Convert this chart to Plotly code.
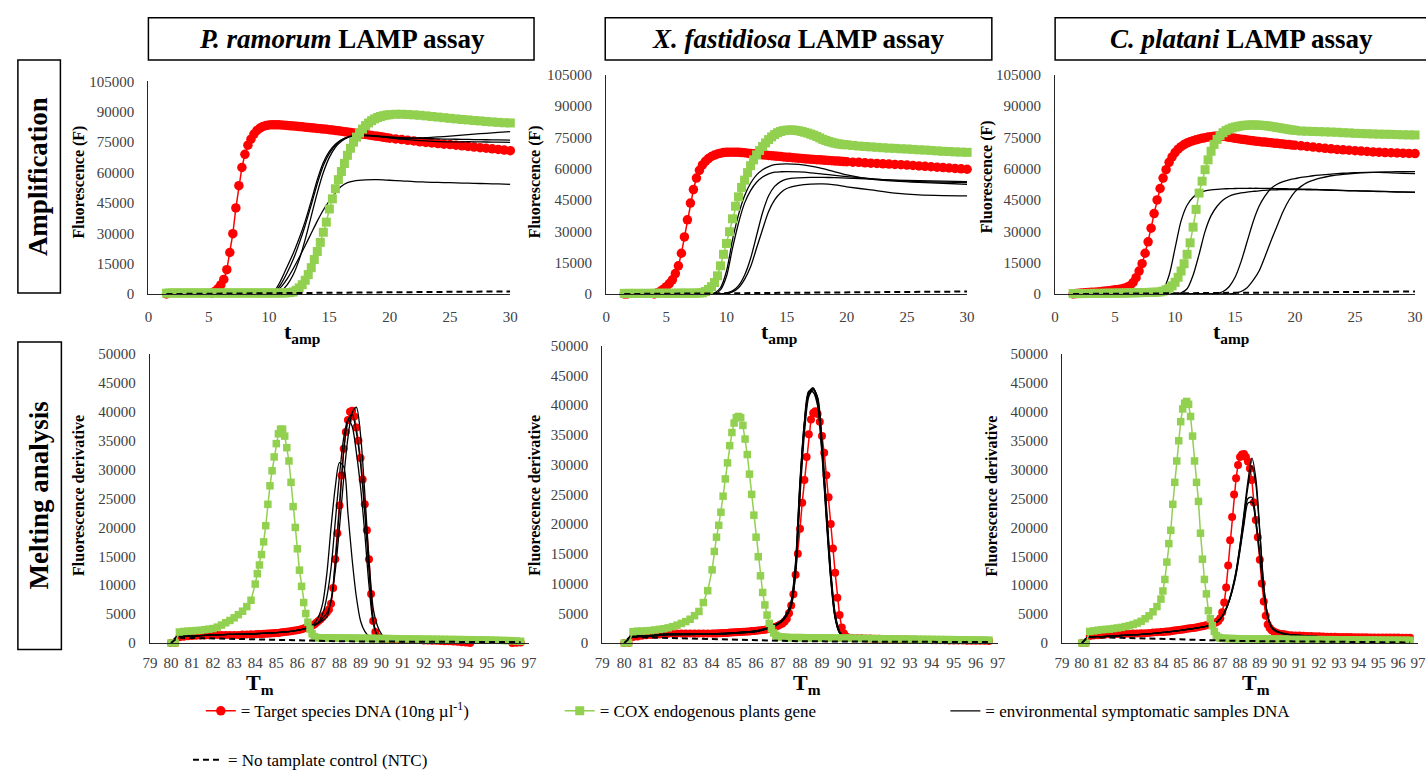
import plotly.graph_objects as go

OX, OY = 0, 0
W, H = 1426, 780
FONT = "Liberation Serif"
RED = "#FF0000"
GREEN = "#92D050"
BLACK = "#000000"
AXIS = "#262626"
TICK = "#404040"

# ======================= AMPLIFICATION (values in thousands of F) =======================
# sampling grid: every 0.25 min up to 20 min, then every 0.5 min
t_amp = [round(1.5 + 0.25 * i, 2) for i in range(75)] + [round(20.5 + 0.5 * i, 1) for i in range(20)]

# ---- P. ramorum ----
amp_red_pr = [0.0, -0.2,
              -0.4, -0.6, -0.8, -0.9, -1.0, -1.0, -1.0, -1.0, -0.9, -0.8, -0.7, -0.5,
              -0.2, 0.4, 1.3, 2.6, 4.5, 7.2, 12.0, 20.5, 29.8, 42.5, 53.5, 62.5,
              69.0, 73.5, 76.5, 79.0, 80.8, 82.0, 82.8, 83.2, 83.5, 83.6, 83.6, 83.6,
              83.5, 83.4, 83.3, 83.1, 83.0, 82.9, 82.7, 82.6, 82.4, 82.3, 82.1, 82.0,
              81.8, 81.7, 81.5, 81.4, 81.2, 81.0, 80.8, 80.6, 80.4, 80.2, 80.0, 79.8,
              79.6, 79.4, 79.2, 79.0, 78.8, 78.6, 78.3, 78.1, 77.9, 77.7, 77.4, 77.2,
              77.0,
              76.6, 76.3, 75.9, 75.6, 75.2, 74.9, 74.6, 74.3, 74.0, 73.8,
              73.5, 73.2, 72.9, 72.6, 72.3, 72.0, 71.7, 71.4, 71.1, 70.8]
amp_grn_pr = [0.4, 0.5,
              0.5, 0.5, 0.5, 0.5, 0.5, 0.5, 0.5, 0.5, 0.5, 0.5, 0.5, 0.5,
              0.5, 0.5, 0.5, 0.5, 0.5, 0.5, 0.5, 0.5, 0.5, 0.5, 0.5, 0.5,
              0.5, 0.5, 0.5, 0.5, 0.5, 0.5, 0.5, 0.5, 0.5, 0.5, 0.5, 0.5,
              0.5, 0.55, 0.6, 0.75, 1.0, 1.8, 3.0, 4.6, 6.8, 9.6, 13.0, 17.0,
              21.0, 25.5, 30.5, 35.5, 42.0, 47.0, 52.0, 56.5, 60.5, 64.5, 68.5, 72.0,
              75.0, 77.5, 79.5, 81.5, 83.2, 84.5, 85.6, 86.5, 87.2, 87.7, 88.1, 88.4,
              88.6,
              88.8, 88.8, 88.7, 88.5, 88.3, 88.0, 87.7, 87.4, 87.1, 86.8,
              86.5, 86.2, 86.0, 85.7, 85.5, 85.2, 85.0, 84.8, 84.6, 84.5]
t_blk_pr = [1.5, 9.5, 10, 10.5, 11, 11.5, 12, 12.5, 13, 13.5, 14, 14.5, 15, 15.5, 16, 16.5, 17,
            18, 19, 20, 21, 22, 23, 24, 25, 26, 27, 28, 29, 30]
amp_blk_pr = [
    [0, 0, 0, 2, 7, 13.5, 20, 27.5, 36, 46, 56.5, 65, 70.5, 74, 76.2, 77.4, 78,
     78.2, 77.8, 77.3, 77, 77, 77.2, 77.6, 78, 78.5, 79, 79.4, 79.8, 80.2],
    [0, 0, 0, 1.2, 5, 10.5, 17, 25, 34, 44, 54.5, 63.5, 69.5, 73.5, 76, 77.5, 78.2,
     78.5, 78, 77.2, 76.5, 76, 75.6, 75.3, 75.2, 75.2, 75.2, 75.1, 75, 74.9],
    [0, 0, 0, 0.3, 1.5, 4.5, 9.5, 17, 27, 38.5, 50, 60, 67.5, 72.5, 75.5, 77.3, 78,
     78.3, 78, 77.6, 77.2, 77, 76.8, 76.6, 76.5, 76.4, 76.3, 76.2, 76.1, 76],
    [0, 0, 0, 1, 3.5, 7.5, 12.5, 18, 24, 30, 36, 41.5, 46, 50, 53.2, 55, 55.8,
     56.4, 56.5, 56.2, 55.9, 55.5, 55.3, 55.1, 55, 54.8, 54.7, 54.5, 54.4, 54.2],
]

# ---- X. fastidiosa ----
amp_red_xf = [0.0, 0.0,
              -0.3, -0.6, -0.9, -1.1, -1.2, -1.1, -0.8, -0.4, 0.0, 0.6, 1.3, 2.3,
              3.5, 5.0, 6.8, 9.8, 13.5, 19.5, 27.3, 35.5, 43.5, 50.0, 55.5, 59.2,
              61.8, 63.5, 64.8, 65.8, 66.5, 67.0, 67.4, 67.7, 67.8, 67.9, 67.9, 67.9,
              67.8, 67.7, 67.6, 67.4, 67.2, 67.1, 66.9, 66.8, 66.6, 66.5, 66.3, 66.2,
              66.0, 65.9, 65.8, 65.6, 65.5, 65.4, 65.2, 65.1, 65.0, 64.9, 64.7, 64.6,
              64.5, 64.4, 64.3, 64.2, 64.1, 64.0, 63.9, 63.8, 63.7, 63.6, 63.5, 63.4,
              63.3,
              63.1, 63.0, 62.8, 62.6, 62.5, 62.3, 62.2, 62.0, 61.9, 61.7,
              61.5, 61.3, 61.1, 60.9, 60.7, 60.5, 60.3, 60.1, 59.9, 59.7]
amp_grn_xf = [0.3, 0.3,
              0.3, 0.3, 0.3, 0.3, 0.3, 0.3, 0.3, 0.3, 0.35, 0.35, 0.35, 0.35,
              0.35, 0.35, 0.35, 0.35, 0.4, 0.4, 0.4, 0.4, 0.4, 0.4, 0.45, 0.5,
              0.6, 1.2, 2.2, 3.5, 5.5, 8.7, 13.5, 19.0, 24.2, 29.8, 36.0, 42.0,
              46.5, 51.0, 54.5, 58.1, 61.4, 64.2, 66.6, 68.7, 70.6, 72.3, 73.9, 75.2,
              76.3, 77.2, 77.8, 78.2, 78.4, 78.5, 78.5, 78.3, 78.1, 77.8, 77.4, 77.0,
              76.5, 76.0, 75.4, 74.7, 74.0, 73.5, 73.0, 72.6, 72.2, 71.9, 71.7, 71.5,
              71.4,
              71.1, 70.8, 70.6, 70.4, 70.2, 70.0, 69.8, 69.7, 69.5, 69.4,
              69.2, 69.0, 68.9, 68.7, 68.5, 68.3, 68.2, 68.0, 67.9, 67.8]
t_blk_xf = [1.5, 8.5, 9, 9.5, 10, 10.5, 11, 11.5, 12, 12.5, 13, 13.5, 14, 14.5, 15,
            16, 17, 18, 19, 20, 22, 24, 26, 28, 30]
amp_blk_xf = [
    [0, 0, 0.5, 3, 11, 26, 38, 47, 53, 57, 59.5, 61, 61.9, 62.2, 62.3, 62, 61.2, 60, 58.5, 57, 55, 54, 53.4, 53, 52.5],
    [0, 0, 0.3, 2, 8.5, 22, 34, 43.5, 49.5, 53.5, 56, 57.5, 58.3, 58.5, 58.6, 58.4, 58, 57.4, 56.8, 56.2, 55.2, 54.4, 53.8, 53.5, 53.3],
    [0, 0, 0, 0, 0.5, 1.5, 4, 9, 17, 28, 39, 47, 51.5, 53.8, 55, 55.6, 55.8, 55.8, 55.7, 55.5, 55, 54.5, 54.2, 54, 53.8],
    [0, 0, 0, 0, 0.3, 1, 3, 7, 13, 22, 31, 39.5, 45, 48.5, 50.5, 52, 52.6, 52.7, 52.2, 51.3, 49.8, 48.3, 47.4, 47.1, 47],
]

# ---- C. platani ----
amp_red_cp = [0.0, 0.2,
              0.4, 0.5, 0.6, 0.7, 0.8, 0.9, 1.0, 1.1, 1.3, 1.4, 1.6, 1.8,
              2.0, 2.2, 2.4, 2.7, 3.2, 4.0, 5.5, 7.8, 11.0, 14.5, 19.5, 25.0,
              31.5, 38.5, 45.0, 50.5, 55.5, 59.5, 63.0, 65.6, 67.7, 69.3, 70.5, 71.5,
              72.3, 72.9, 73.4, 73.8, 74.2, 74.5, 74.8, 75.1, 75.3, 75.5, 75.6, 75.6,
              75.5, 75.3, 75.0, 74.8, 74.5, 74.3, 74.1, 73.9, 73.7, 73.5, 73.3, 73.1,
              73.0, 72.8, 72.7, 72.5, 72.4, 72.2, 72.1, 71.9, 71.8, 71.6, 71.5, 71.3,
              71.2,
              70.9, 70.6, 70.3, 70.0, 69.7, 69.5, 69.2, 69.0, 68.8, 68.6,
              68.4, 68.2, 68.0, 67.9, 67.7, 67.6, 67.5, 67.4, 67.3, 67.2]
amp_grn_cp = [0.2, 0.2,
              0.2, 0.2, 0.25, 0.25, 0.3, 0.3, 0.3, 0.3, 0.35, 0.35, 0.4, 0.4,
              0.4, 0.45, 0.45, 0.5, 0.5, 0.55, 0.6, 0.6, 0.65, 0.7, 0.7, 0.75,
              0.8, 0.85, 0.9, 1.0, 1.4, 2.0, 2.8, 3.9, 5.6, 8.0, 11.0, 14.5,
              19.0, 24.5, 32.0, 40.5, 48.3, 54.0, 59.5, 64.2, 68.3, 71.6, 74.0, 75.8,
              77.2, 78.2, 78.9, 79.5, 79.9, 80.2, 80.5, 80.7, 80.8, 80.9, 80.9, 80.9,
              80.8, 80.7, 80.6, 80.4, 80.2, 80.0, 79.7, 79.5, 79.2, 79.0, 78.7, 78.5,
              78.3,
              78.0, 77.9, 77.8, 77.7, 77.6, 77.5, 77.4, 77.2, 77.1, 76.9,
              76.8, 76.7, 76.6, 76.5, 76.45, 76.4, 76.3, 76.2, 76.15, 76.1]
t_blk_cp = [1.5, 8.5, 9, 9.5, 10, 10.5, 11, 11.5, 12, 12.5, 13, 13.5, 14, 14.5, 15, 15.5, 16,
            16.5, 17, 17.5, 18, 18.5, 19, 19.5, 20, 20.5, 21, 21.5, 22, 23, 24, 25, 26, 27, 28, 29, 30]
amp_blk_cp = [
    [0, 0, 2, 9, 22, 35, 42.5, 46.3, 48.3, 49.3, 49.8, 50.1, 50.3, 50.4, 50.5, 50.55, 50.6, 50.6, 50.6,
     50.55, 50.5, 50.45, 50.4, 50.35, 50.3, 50.2, 50.15, 50.1, 50.0, 49.8, 49.6, 49.45, 49.3, 49.15, 49.0, 48.85, 48.7],
    [0, 0, 0, 0, 0, 0.5, 2.5, 9, 19, 30, 37.5, 42, 45, 46.8, 47.8, 48.4, 48.8, 49.1, 49.4,
     49.6, 49.8, 49.9, 50, 50, 50, 50, 49.9, 49.9, 49.8, 49.65, 49.5, 49.35, 49.2, 49.05, 48.9, 48.75, 48.6],
    [0, 0, 0, 0, 0, 0, 0, 0, 0, 0, 0, 0.3, 1.2, 3.5, 8, 15.5, 25, 34.5, 42,
     47, 50.5, 52.5, 53.8, 54.6, 55.2, 55.8, 56.2, 56.6, 56.9, 57.4, 57.8, 58.1, 58.2, 58.2, 58.0, 57.8, 57.6],
    [0, 0, 0, 0, 0, 0, 0, 0, 0, 0, 0, 0, 0, 0, 0.4, 1.2, 3, 6.5, 11,
     18, 25.5, 32.5, 39.5, 45, 49, 51.5, 53.3, 54.4, 55.3, 56.6, 57.3, 57.8, 58.1, 58.3, 58.5, 58.6, 58.6],
]

t_ntc_amp = [1.5, 10, 20, 30]
amp_ntc = {"pr": [0, 0.3, 0.8, 1.3], "xf": [0, 0.3, 0.8, 1.2], "cp": [0, 0.3, 0.8, 1.2]}

# ======================= MELTING (values in thousands) =======================
T_melt = ([round(80.0 + 0.2 * i, 1) for i in range(20)] + [round(84.0 + 0.1 * i, 1) for i in range(65)]
          + [round(90.6 + 0.2 * i, 1) for i in range(31)])

melt_red_pr = ([0, 0, 1.0, 1.1, 1.15, 1.2, 1.25, 1.3, 1.3, 1.35, 1.4, 1.4, 1.4, 1.4, 1.4, 1.4, 1.4, 1.45, 1.45, 1.5]
               + [1.5, 1.5, 1.55, 1.55, 1.6, 1.6, 1.65, 1.65, 1.7, 1.7,
                  1.75, 1.75, 1.8, 1.85, 1.9, 1.95, 2.0, 2.05, 2.1, 2.15,
                  2.2, 2.3, 2.4, 2.5, 2.6, 2.7, 2.85, 3.0, 3.2, 3.5,
                  3.8, 4.1, 4.5, 4.9, 5.3, 5.8, 6.8, 9.5, 14.5, 19.0,
                  23.8, 29.0, 33.6, 36.5, 38.6, 40.0, 40.2, 39.2, 37.3, 35.0,
                  32.0, 28.3, 24.0, 19.5, 14.5, 8.5, 3.8, 1.9, 1.1, 0.8,
                  0.7, 0.65, 0.6, 0.6, 0.6]
               + [0.6, 0.6, 0.55, 0.55, 0.5, 0.5, 0.5, 0.45, 0.45, 0.4, 0.4, 0.35, 0.3, 0.3, 0.25,
                  0.2, 0.15, 0.1, 0.0, -0.1, -0.2, -0.25, -0.3, -0.3, -0.3, -0.25, -0.2, -0.1, 0.0, 0.05, 0.1])
melt_grn_pr = ([0, 0, 1.9, 2.0, 2.05, 2.1, 2.15, 2.2, 2.3, 2.4, 2.5, 2.75, 3.1, 3.5, 3.9, 4.35, 4.9, 5.5, 6.3, 7.4]
               + [10.2, 12.0, 13.5, 15.3, 17.5, 20.3, 24.0, 27.2, 29.8, 32.2,
                  34.5, 36.2, 37.0, 37.0, 35.8, 33.8, 31.5, 27.8, 23.6, 20.0,
                  16.3, 12.6, 9.8, 7.0, 5.1, 3.6, 2.4, 1.6, 1.1, 0.95,
                  0.9, 0.9, 0.9, 0.9, 0.9, 0.88, 0.88, 0.87, 0.86, 0.85,
                  0.85, 0.85, 0.84, 0.84, 0.83, 0.83, 0.82, 0.82, 0.81, 0.81,
                  0.8, 0.8, 0.8, 0.79, 0.79, 0.78, 0.78, 0.78, 0.77, 0.77,
                  0.77, 0.76, 0.76, 0.76, 0.75]
               + [0.75, 0.74, 0.73, 0.72, 0.71, 0.7, 0.69, 0.68, 0.67, 0.66, 0.65, 0.64, 0.63, 0.62, 0.61,
                  0.6, 0.59, 0.58, 0.57, 0.56, 0.55, 0.54, 0.52, 0.5, 0.48, 0.46, 0.44, 0.42, 0.4, 0.35, 0.3])

melt_red_xf = ([0, 0, 1.0, 1.1, 1.2, 1.3, 1.35, 1.4, 1.45, 1.5, 1.55, 1.6, 1.6, 1.6, 1.6, 1.6, 1.6, 1.6, 1.6, 1.6]
               + [1.6, 1.6, 1.6, 1.65, 1.65, 1.7, 1.7, 1.7, 1.75, 1.75,
                  1.8, 1.8, 1.85, 1.85, 1.9, 1.9, 1.95, 1.95, 2.0, 2.0,
                  2.05, 2.1, 2.15, 2.2, 2.25, 2.3, 2.4, 2.5, 2.6, 2.75,
                  2.9, 3.1, 3.3, 3.6, 4.1, 5.0, 6.3, 8.2, 11.5, 15.0,
                  19.2, 23.6, 27.4, 31.3, 35.1, 37.6, 38.7, 39.0, 38.5, 37.2,
                  34.8, 32.0, 28.2, 24.5, 20.0, 15.9, 11.8, 7.6, 4.7, 2.6,
                  1.6, 1.1, 0.9, 0.85, 0.8]
               + [0.8, 0.78, 0.76, 0.74, 0.72, 0.7, 0.68, 0.66, 0.64, 0.62, 0.6, 0.58, 0.56, 0.54, 0.52,
                  0.5, 0.49, 0.48, 0.47, 0.46, 0.45, 0.44, 0.43, 0.42, 0.41, 0.4, 0.39, 0.38, 0.37, 0.36, 0.35])
melt_grn_xf = ([0, 0, 1.9, 2.0, 2.0, 2.05, 2.1, 2.2, 2.3, 2.4, 2.55, 2.75, 3.0, 3.3, 3.6, 4.0, 4.6, 5.3, 6.8, 8.8]
               + [12.3, 15.4, 17.8, 19.8, 22.0, 24.7, 27.6, 30.3, 33.2, 35.4,
                  37.0, 37.9, 38.1, 37.9, 36.6, 34.3, 31.7, 28.4, 25.0, 21.5,
                  17.8, 14.5, 11.3, 8.5, 6.4, 4.7, 3.3, 2.4, 1.7, 1.3,
                  1.1, 1.0, 1.0, 0.95, 0.95, 0.9, 0.9, 0.9, 0.9, 0.9,
                  0.9, 0.9, 0.88, 0.88, 0.87, 0.87, 0.86, 0.86, 0.85, 0.85,
                  0.85, 0.84, 0.84, 0.83, 0.83, 0.82, 0.82, 0.81, 0.81, 0.8,
                  0.8, 0.8, 0.8, 0.79, 0.79]
               + [0.78, 0.77, 0.76, 0.75, 0.74, 0.73, 0.72, 0.71, 0.7, 0.69, 0.68, 0.67, 0.66, 0.65, 0.64,
                  0.63, 0.62, 0.61, 0.6, 0.59, 0.58, 0.57, 0.56, 0.55, 0.54, 0.53, 0.52, 0.51, 0.5, 0.49, 0.48])

melt_red_cp = ([0, 0, 1.2, 1.3, 1.35, 1.4, 1.45, 1.5, 1.5, 1.55, 1.6, 1.6, 1.6, 1.65, 1.65, 1.7, 1.7, 1.75, 1.8, 1.85]
               + [1.9, 1.9, 1.95, 2.0, 2.0, 2.05, 2.1, 2.15, 2.2, 2.25,
                  2.3, 2.35, 2.4, 2.45, 2.5, 2.55, 2.6, 2.65, 2.7, 2.75,
                  2.85, 2.9, 3.0, 3.05, 3.1, 3.2, 3.3, 3.45, 3.6, 3.8,
                  4.3, 5.3, 7.0, 9.6, 13.4, 17.8, 21.8, 25.7, 28.5, 30.8,
                  32.2, 32.6, 32.7, 32.2, 31.4, 30.2, 28.2, 24.3, 21.3, 18.3,
                  14.4, 10.3, 7.2, 4.7, 3.2, 2.6, 2.2, 2.0, 1.8, 1.7,
                  1.6, 1.55, 1.5, 1.45, 1.4]
               + [1.35, 1.3, 1.28, 1.25, 1.22, 1.2, 1.18, 1.15, 1.13, 1.1, 1.08, 1.06, 1.05, 1.04, 1.03,
                  1.02, 1.01, 1.0, 0.99, 0.98, 0.97, 0.96, 0.95, 0.95, 0.94, 0.94, 0.93, 0.93, 0.92, 0.92, 0.91])
melt_grn_cp = ([0, 0, 2.0, 2.1, 2.2, 2.3, 2.35, 2.4, 2.5, 2.6, 2.7, 2.85, 3.0, 3.2, 3.45, 3.75, 4.2, 4.7, 5.4, 6.3]
               + [7.6, 9.0, 11.0, 14.0, 17.2, 19.5, 24.0, 27.8, 31.5, 35.0,
                  38.3, 40.5, 41.5, 41.8, 41.3, 39.2, 35.8, 31.5, 27.8, 24.5,
                  19.0, 14.5, 11.0, 8.5, 5.6, 4.2, 3.0, 2.0, 1.3, 1.0,
                  0.85, 0.8, 0.8, 0.78, 0.78, 0.76, 0.76, 0.75, 0.75, 0.74,
                  0.74, 0.73, 0.73, 0.72, 0.72, 0.71, 0.71, 0.7, 0.7, 0.7,
                  0.69, 0.69, 0.68, 0.68, 0.67, 0.67, 0.66, 0.66, 0.65, 0.65,
                  0.65, 0.64, 0.64, 0.63, 0.63]
               + [0.62, 0.62, 0.61, 0.61, 0.6, 0.6, 0.59, 0.59, 0.58, 0.58, 0.57, 0.57, 0.56, 0.56, 0.55,
                  0.55, 0.54, 0.54, 0.53, 0.53, 0.52, 0.52, 0.51, 0.51, 0.5, 0.5, 0.49, 0.49, 0.48, 0.48, 0.47])

T_blk = [80.0, 80.3, 81, 82, 83, 84, 85, 86, 86.5, 86.8,
         87.0, 87.2, 87.4, 87.6, 87.8, 88.0, 88.2, 88.4, 88.6, 88.8, 89.0, 89.2, 89.4, 89.6, 89.8, 90.0, 90.2, 90.4,
         91, 92, 93, 94, 95, 96, 96.6]
melt_blk_pr = [
    [0, 1.1, 1.2, 1.4, 1.5, 1.6, 1.8, 2.2, 2.6, 3.4,
     4.5, 6.8, 12, 20, 27, 31.2, 30.5, 22.5, 14.5, 8.0, 3.8, 2.0, 1.2, 0.9, 0.8, 0.7, 0.65, 0.6,
     0.55, 0.5, 0.45, 0.4, 0.35, 0.3, 0.3],
    [0, 1.1, 1.2, 1.4, 1.5, 1.6, 1.8, 2.2, 2.6, 3.1,
     3.6, 5.0, 8.0, 13.0, 21.0, 29.0, 35.5, 38.6, 37.5, 33.0, 27.0, 19.0, 10.0, 3.5, 1.3, 0.8, 0.7, 0.6,
     0.55, 0.5, 0.45, 0.4, 0.35, 0.3, 0.3],
    [0, 1.1, 1.2, 1.4, 1.5, 1.6, 1.8, 2.2, 2.6, 3.0,
     3.4, 3.9, 4.5, 7.5, 12.5, 20, 28.5, 35.5, 39.8, 40.8, 36, 26, 14.5, 6, 3, 1.5, 0.8, 0.7,
     0.6, 0.5, 0.45, 0.4, 0.35, 0.3, 0.3],
    [0, 1.1, 1.2, 1.4, 1.5, 1.6, 1.8, 2.2, 2.6, 3.0,
     3.5, 4.3, 5.2, 7.2, 14.0, 23.5, 33.0, 38.5, 39.6, 36.5, 31.0, 22.5, 12.5, 4.0, 1.3, 0.8, 0.7, 0.6,
     0.55, 0.5, 0.45, 0.4, 0.35, 0.3, 0.3],
]
melt_blk_xf = [
    [0, 1.1, 1.2, 1.5, 1.5, 1.5, 1.7, 2.0, 2.5, 2.9,
     3.3, 3.8, 4.8, 6.5, 12.5, 26, 36.5, 42, 42.8, 41, 33, 22, 11.5, 4.5, 1.8, 1.0, 0.8, 0.7,
     0.6, 0.55, 0.5, 0.45, 0.4, 0.35, 0.3],
    [0, 1.1, 1.2, 1.5, 1.5, 1.5, 1.7, 2.0, 2.5, 2.9,
     3.3, 3.9, 5.0, 7.0, 13.5, 27, 37, 42.3, 42.2, 40.0, 32, 21, 10.8, 4.2, 1.7, 1.0, 0.8, 0.7,
     0.6, 0.55, 0.5, 0.45, 0.4, 0.35, 0.3],
    [0, 1.0, 1.1, 1.4, 1.45, 1.5, 1.65, 1.95, 2.4, 2.8,
     3.2, 3.7, 4.6, 6.2, 12.0, 25, 35.5, 41.5, 42.6, 41.3, 33.8, 22.8, 12.0, 4.8, 1.9, 1.0, 0.8, 0.7,
     0.6, 0.55, 0.5, 0.45, 0.4, 0.35, 0.3],
    [0, 1.0, 1.1, 1.4, 1.45, 1.5, 1.65, 1.95, 2.4, 2.8,
     3.2, 3.8, 4.9, 6.8, 13.0, 26.5, 36.8, 42.2, 42.9, 40.5, 32.5, 21.5, 11.2, 4.4, 1.8, 1.0, 0.8, 0.7,
     0.6, 0.55, 0.5, 0.45, 0.4, 0.35, 0.3],
]
melt_blk_cp = [
    [0, 1.0, 1.1, 1.3, 1.5, 1.8, 2.2, 2.7, 3.1, 3.6,
     4.2, 5.3, 6.9, 9.3, 12.5, 17.0, 22.5, 28.0, 32.0, 28.5, 19.5, 10.0, 4.8, 2.8, 2.2, 1.9, 1.7, 1.5,
     1.3, 1.1, 1.0, 0.9, 0.85, 0.8, 0.75],
    [0, 1.0, 1.1, 1.3, 1.5, 1.8, 2.2, 2.7, 3.1, 3.6,
     4.2, 5.2, 6.8, 9.1, 12.3, 16.8, 22.0, 27.0, 30.6, 27.5, 19.0, 9.8, 4.7, 2.7, 2.1, 1.8, 1.6, 1.5,
     1.3, 1.1, 1.0, 0.9, 0.85, 0.8, 0.75],
    [0, 1.0, 1.1, 1.3, 1.5, 1.8, 2.2, 2.7, 3.1, 3.6,
     4.2, 5.2, 6.8, 9.0, 12.0, 16.3, 21.0, 25.0, 25.2, 21.5, 15.5, 9.0, 4.6, 2.7, 2.1, 1.8, 1.6, 1.5,
     1.3, 1.1, 1.0, 0.9, 0.85, 0.8, 0.75],
    [0, 1.0, 1.1, 1.3, 1.5, 1.8, 2.2, 2.7, 3.1, 3.6,
     4.2, 5.1, 6.7, 8.9, 11.8, 16.0, 20.5, 24.2, 24.4, 20.8, 15.0, 8.7, 4.5, 2.6, 2.0, 1.8, 1.6, 1.5,
     1.3, 1.1, 1.0, 0.9, 0.85, 0.8, 0.75],
]
T_ntc = [80.0, 80.3, 82, 84, 86, 88, 90, 93, 96.6]
melt_ntc = {"pr": [0, 0.9, 0.8, 0.6, 0.4, 0.3, 0.25, 0.2, 0.15],
            "xf": [0, 1.0, 0.85, 0.65, 0.45, 0.3, 0.25, 0.2, 0.15],
            "cp": [0, 1.0, 0.9, 0.7, 0.5, 0.35, 0.3, 0.25, 0.1]}

# sanity checks
for a in (amp_red_pr, amp_grn_pr, amp_red_xf, amp_grn_xf, amp_red_cp, amp_grn_cp):
    assert len(a) == len(t_amp), len(a)
for a in (melt_red_pr, melt_grn_pr, melt_red_xf, melt_grn_xf, melt_red_cp, melt_grn_cp):
    assert len(a) == len(T_melt), len(a)
for tb, bl in ((t_blk_pr, amp_blk_pr), (t_blk_xf, amp_blk_xf), (t_blk_cp, amp_blk_cp),
               (T_blk, melt_blk_pr), (T_blk, melt_blk_xf), (T_blk, melt_blk_cp)):
    for b in bl:
        assert len(b) == len(tb), (len(b), len(tb))


def k(v):
    return [x * 1000 for x in v]


def fx(p):  # page pixel -> paper x
    return (p - OX) / W


def fy(p):  # page pixel -> paper y
    return 1 - (p - OY) / H


fig = go.Figure()


def add_panel(n, t_rg, red, grn, t_b, blks, t_n, ntc, msize, blw, legend=False):
    xa = "x" if n == 1 else f"x{n}"
    ya = "y" if n == 1 else f"y{n}"
    fig.add_trace(go.Scatter(x=t_rg, y=k(red), mode="lines+markers", xaxis=xa, yaxis=ya,
                             line=dict(color=RED, width=1.5),
                             marker=dict(symbol="circle", size=msize, color=RED),
                             cliponaxis=False, showlegend=legend, legend="legend",
                             name="= Target species DNA (10ng \u00b5l<sup>-1</sup>)"))
    for i, b in enumerate(blks):
        fig.add_trace(go.Scatter(x=t_b, y=k(b), mode="lines", xaxis=xa, yaxis=ya,
                                 line=dict(color=BLACK, width=blw, shape="spline", smoothing=0.8),
                                 cliponaxis=False, showlegend=(legend and i == 0), legend="legend3",
                                 name="= environmental symptomatic samples DNA"))
    fig.add_trace(go.Scatter(x=t_rg, y=k(grn), mode="lines+markers", xaxis=xa, yaxis=ya,
                             line=dict(color=GREEN, width=1.5),
                             marker=dict(symbol="square", size=msize - 0.5, color=GREEN),
                             cliponaxis=False, showlegend=legend, legend="legend2",
                             name="= COX endogenous plants gene"))
    fig.add_trace(go.Scatter(x=t_n, y=k(ntc), mode="lines", xaxis=xa, yaxis=ya,
                             line=dict(color=BLACK, width=2, dash="6px,4px"),
                             cliponaxis=False, showlegend=legend, legend="legend4",
                             name="= No tamplate control (NTC)"))


add_panel(1, t_amp, amp_red_pr, amp_grn_pr, t_blk_pr, amp_blk_pr, t_ntc_amp, amp_ntc["pr"], 9.5, 1.3, legend=True)
add_panel(2, t_amp, amp_red_xf, amp_grn_xf, t_blk_xf, amp_blk_xf, t_ntc_amp, amp_ntc["xf"], 9.5, 1.3)
add_panel(3, t_amp, amp_red_cp, amp_grn_cp, t_blk_cp, amp_blk_cp, t_ntc_amp, amp_ntc["cp"], 9.5, 1.3)
add_panel(4, T_melt, melt_red_pr, melt_grn_pr, T_blk, melt_blk_pr, T_ntc, melt_ntc["pr"], 8, 1.3)
add_panel(5, T_melt, melt_red_xf, melt_grn_xf, T_blk, melt_blk_xf, T_ntc, melt_ntc["xf"], 8, 1.6)
add_panel(6, T_melt, melt_red_cp, melt_grn_cp, T_blk, melt_blk_cp, T_ntc, melt_ntc["cp"], 8, 1.3)

# ----- axes (page pixel geometry) -----
geom = [
    # x0, x1, ytop, ybottom, xrange, yrange, dtx, dty, ticklen_x
    (142, 508, 75, 292, [0, 30], [0, 105000], 5, 15000, 9),
    (605, 970, 68, 292, [0, 30], [0, 105000], 5, 15000, 9),
    (1059, 1423, 68, 292, [0, 30], [0, 105000], 5, 15000, 9),
    (143.5, 527, 353.3, 648.3, [79, 97], [0, 50000], 1, 5000, 6),
    (601, 1001, 344.8, 648.3, [79, 97], [0, 50000], 1, 5000, 6),
    (1066, 1426, 353.3, 648.3, [79, 97], [0, 50000], 1, 5000, 6),
]
layout_axes = {}
for i, (x0, x1, yt, yb, xr, yr, dtx, dty, tlx) in enumerate(geom, start=1):
    sfx = "" if i == 1 else str(i)
    tickfont = dict(family=FONT, size=15, color=TICK)
    layout_axes["xaxis" + sfx] = dict(domain=[fx(x0), min(1.0, fx(x1))], range=xr, anchor="y" + sfx, dtick=dtx,
                                      tick0=xr[0], showline=True, linecolor=AXIS, linewidth=1.2, showgrid=False,
                                      zeroline=False, ticks="outside", ticklen=tlx, tickcolor="rgba(0,0,0,0)",
                                      tickfont=tickfont, fixedrange=True)
    layout_axes["yaxis" + sfx] = dict(domain=[fy(yb), fy(yt)], range=yr, anchor="x" + sfx, dtick=dty, tick0=0,
                                      showline=True, linecolor=AXIS, linewidth=1.2, showgrid=False, zeroline=False,
                                      ticks="outside", ticklen=10, tickcolor="rgba(0,0,0,0)", tickfont=tickfont,
                                      tickformat="d", fixedrange=True)


def ann(text, x, y, size, angle=0):
    return dict(text=text, x=fx(x), y=fy(y), xref="paper", yref="paper", showarrow=False,
                xanchor="center", yanchor="middle", textangle=angle,
                font=dict(family=FONT, size=size, color="black"))


annotations = [
    ann("<b><i>P. ramorum</i> LAMP assay</b>", 338, 32, 27),
    ann("<b><i>X. fastidiosa</i> LAMP assay</b>", 799, 32, 27),
    ann("<b><i>C. platani</i> LAMP assay</b>", 1248, 32, 27),
    ann("<b>Amplification</b>", 31, 172, 27, -90),
    ann("<b>Melting analysis</b>", 31, 498, 27, -90),
    ann("<b>Fluorescence (F)</b>", 72, 178, 16, -90),
    ann("<b>Fluorescence (F)</b>", 533, 178, 16, -90),
    ann("<b>Fluorescence (F)</b>", 991, 172, 16, -90),
    ann("<b>Fluorescence derivative</b>", 72, 498, 16, -90),
    ann("<b>Fluorescence derivative</b>", 533, 498, 16, -90),
    ann("<b>Fluorescence derivative</b>", 995, 498, 16, -90),
    ann("<b>t<sub>amp</sub></b>", 297, 332, 22),
    ann("<b>t<sub>amp</sub></b>", 780, 332, 22),
    ann("<b>t<sub>amp</sub></b>", 1237, 332, 22),
    ann("<b>T<sub>m</sub></b>", 255, 690, 22),
    ann("<b>T<sub>m</sub></b>", 808, 690, 22),
    ann("<b>T<sub>m</sub></b>", 1262, 690, 22),
]


def rect(x0, y0, x1, y1):
    return dict(type="rect", xref="paper", yref="paper", x0=fx(x0), x1=fx(x1), y0=fy(y1), y1=fy(y0),
                line=dict(color="black", width=1.5), fillcolor="rgba(0,0,0,0)", layer="above")


shapes = [rect(142, 10, 532, 53), rect(604, 10, 995, 53), rect(1059, 10, 1440, 53),
          rect(10, 53, 53, 291), rect(10, 341, 54, 655)]


def leg(xpx, ypx):
    return dict(x=fx(xpx), y=fy(ypx), xanchor="left", yanchor="middle", orientation="h",
                bgcolor="rgba(0,0,0,0)", borderwidth=0, font=dict(family=FONT, size=17, color="black"),
                itemclick=False, itemdoubleclick=False)


fig.update_layout(
    width=W, height=H, autosize=False,
    margin=dict(l=0, r=0, t=0, b=0),
    paper_bgcolor="white", plot_bgcolor="white",
    font=dict(family=FONT, color="black"),
    annotations=annotations, shapes=shapes,
    legend=leg(195, 718), legend2=leg(558, 718), legend3=leg(948, 718), legend4=leg(182, 768),
    **layout_axes,
)

fig.write_html("out.html", config={"displayModeBar": False},
               post_script="document.body.style.margin='0px';"
                           "document.documentElement.style.overflow='hidden';"
                           "document.body.style.overflow='hidden';")
